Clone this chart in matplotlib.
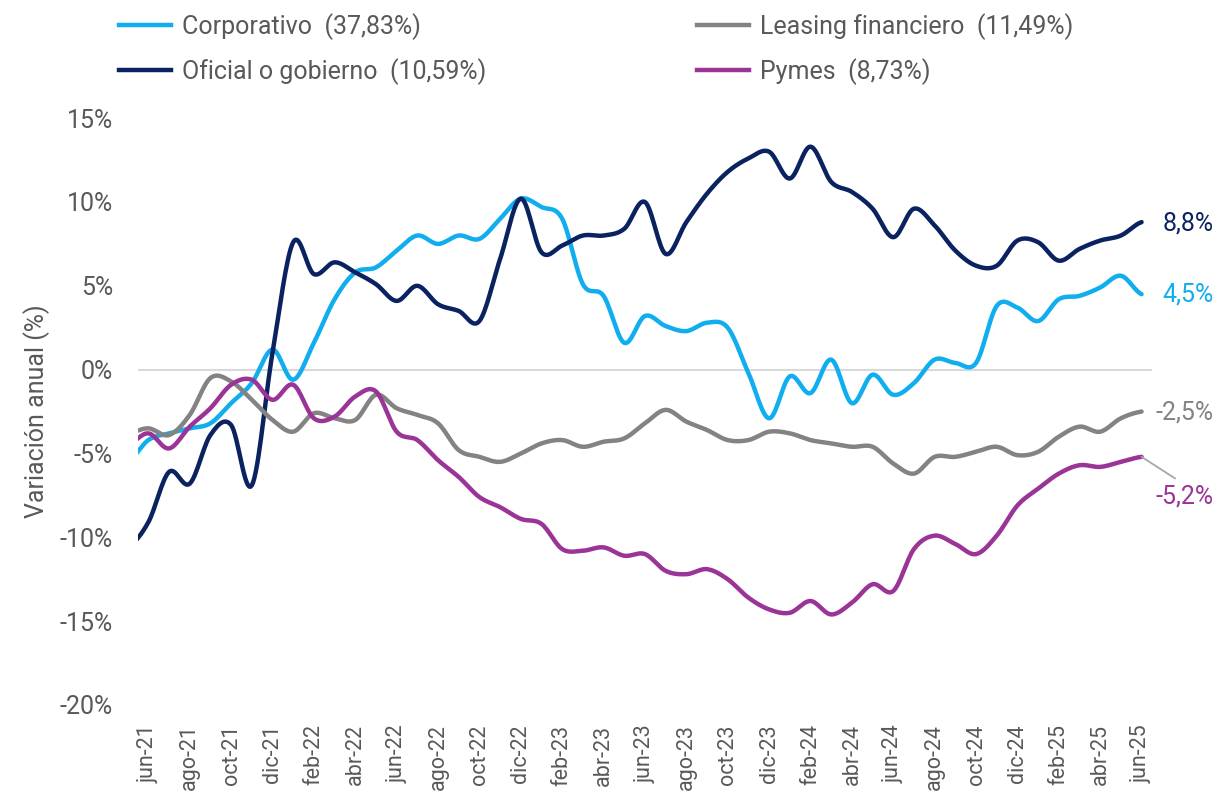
import matplotlib
matplotlib.use('Agg')
import matplotlib.pyplot as plt
from matplotlib.lines import Line2D
import numpy as np

plt.rcParams['font.family'] = ['Roboto', 'DejaVu Sans']

# months, may-21 .. jun-25 (may-21 only enters from the left edge)
months = ['may-21',
          'jun-21', 'jul-21', 'ago-21', 'sep-21', 'oct-21', 'nov-21', 'dic-21',
          'ene-22', 'feb-22', 'mar-22', 'abr-22', 'may-22', 'jun-22', 'jul-22',
          'ago-22', 'sep-22', 'oct-22', 'nov-22', 'dic-22', 'ene-23', 'feb-23',
          'mar-23', 'abr-23', 'may-23', 'jun-23', 'jul-23', 'ago-23', 'sep-23',
          'oct-23', 'nov-23', 'dic-23', 'ene-24', 'feb-24', 'mar-24', 'abr-24',
          'may-24', 'jun-24', 'jul-24', 'ago-24', 'sep-24', 'oct-24', 'nov-24',
          'dic-24', 'ene-25', 'feb-25', 'mar-25', 'abr-25', 'may-25', 'jun-25']

corporativo = [-5.5,
               -4.2, -3.8, -3.5, -3.2, -2.0, -0.8, 1.2, -0.6, 1.6, 4.2, 5.8, 6.1,
               7.1, 8.0, 7.5, 8.0, 7.8, 9.0, 10.2, 9.7, 9.0, 5.1, 4.4, 1.6,
               3.2, 2.6, 2.3, 2.8, 2.5, -0.2, -2.9, -0.4, -1.4, 0.6, -2.0, -0.3,
               -1.5, -0.8, 0.6, 0.4, 0.4, 3.8, 3.7, 2.9, 4.2, 4.4, 4.9, 5.6, 4.5]

leasing = [-3.8,
           -3.5, -3.9, -2.7, -0.5, -0.7, -1.8, -3.0, -3.7, -2.6, -2.9, -3.0, -1.5,
           -2.3, -2.7, -3.2, -4.8, -5.2, -5.5, -5.0, -4.4, -4.2, -4.6, -4.3, -4.1,
           -3.2, -2.4, -3.1, -3.6, -4.2, -4.2, -3.7, -3.8, -4.2, -4.4, -4.6, -4.6,
           -5.6, -6.2, -5.2, -5.2, -4.9, -4.6, -5.1, -4.9, -4.0, -3.4, -3.7, -2.9, -2.5]

oficial = [-10.6,
           -9.1, -6.1, -6.8, -3.9, -3.3, -6.9, 1.0, 7.6, 5.7, 6.4, 5.8, 5.1,
           4.1, 5.0, 3.9, 3.5, 2.9, 6.6, 10.2, 7.0, 7.4, 8.0, 8.0, 8.4,
           10.0, 6.9, 8.8, 10.5, 11.8, 12.6, 13.0, 11.4, 13.3, 11.2, 10.6, 9.6,
           7.9, 9.6, 8.6, 7.1, 6.2, 6.2, 7.7, 7.6, 6.5, 7.2, 7.7, 8.0, 8.8]

pymes = [-4.5,
         -3.8, -4.7, -3.4, -2.3, -0.9, -0.6, -1.8, -0.9, -2.9, -2.8, -1.6, -1.3,
         -3.7, -4.2, -5.4, -6.4, -7.6, -8.2, -8.9, -9.2, -10.7, -10.8, -10.6, -11.1,
         -11.0, -12.0, -12.2, -11.9, -12.5, -13.6, -14.3, -14.5, -13.8, -14.6, -13.9, -12.8,
         -13.2, -10.7, -9.9, -10.4, -11.0, -9.9, -8.1, -7.1, -6.2, -5.7, -5.8, -5.5, -5.2]

series_names = ['Corporativo  (37,83%)', 'Oficial o gobierno  (10,59%)',
                'Leasing financiero  (11,49%)', 'Pymes  (8,73%)']
end_labels = ['4,5%', '8,8%', '-2,5%', '-5,2%']

C_CORP = '#10AEEE'
C_OFI = '#0B2260'
C_LEAS = '#838383'
C_PYM = '#9B3497'
C_TEXT = '#595959'


def smooth(x, y, n=16):
    # catmull-rom style curve, like the "smoothed line" option in office charts
    x = np.asarray(x, float)
    y = np.asarray(y, float)
    xs, ys = [], []
    for i in range(len(x) - 1):
        p0 = y[i - 1] if i > 0 else y[i]
        p3 = y[i + 2] if i + 2 < len(y) else y[i + 1]
        p1, p2 = y[i], y[i + 1]
        t = np.linspace(0, 1, n, endpoint=False)
        yy = 0.5 * ((2 * p1) + (-p0 + p2) * t + (2 * p0 - 5 * p1 + 4 * p2 - p3) * t ** 2
                    + (-p0 + 3 * p1 - 3 * p2 + p3) * t ** 3)
        xs.append(x[i] + t * (x[i + 1] - x[i]))
        ys.append(yy)
    xs.append([x[-1]])
    ys.append([y[-1]])
    return np.concatenate(xs), np.concatenate(ys)


fig = plt.figure(figsize=(12.32, 7.93), dpi=100)
ax = fig.add_axes([0.112, 0.111, 0.823, 0.740])

x = np.arange(len(months)) - 1  # jun-21 at 0

ax.axhline(0, color='#D9D9D9', lw=1.5, zorder=1)

order = [(corporativo, C_CORP), (oficial, C_OFI), (leasing, C_LEAS), (pymes, C_PYM)]
for vals, col in order:
    sx, sy = smooth(x, vals)
    ax.plot(sx, sy, color=col, lw=3.2, solid_capstyle='round', zorder=3)

ax.set_xlim(-0.5, 48.5)
ax.set_ylim(-20, 15)
ax.set_yticks(np.arange(-20, 16, 5))
ax.set_yticklabels([f'{v}%' for v in range(-20, 16, 5)], fontsize=18, color=C_TEXT)
ax.set_xticks(x[1::2])
ax.set_xticklabels(months[1::2], rotation=90, fontsize=15.5, color=C_TEXT)
ax.tick_params(axis='both', length=0)
ax.tick_params(axis='y', pad=18)
ax.tick_params(axis='x', pad=14)
for s in ax.spines.values():
    s.set_visible(False)
ax.set_ylabel('Variación anual (%)', fontsize=18, color=C_TEXT)
ax.yaxis.set_label_coords(-0.087, 0.5)

# end-of-line value labels
ax.text(49.0, oficial[-1] - 0.1, end_labels[1], color=C_OFI, fontsize=18, va='center', ha='left')
ax.text(49.0, corporativo[-1], end_labels[0], color=C_CORP, fontsize=18, va='center', ha='left')
ax.text(48.65, leasing[-1] - 0.05, end_labels[2], color=C_LEAS, fontsize=18, va='center', ha='left')
ax.annotate(end_labels[3], xy=(48, pymes[-1]), xytext=(48.65, pymes[-1] - 2.35),
            color=C_PYM, fontsize=18, va='center', ha='left', annotation_clip=False,
            arrowprops=dict(arrowstyle='-', color='#A6A6A6', lw=1.3,
                            shrinkA=4, shrinkB=0, relpos=(0.5, 1.0)))

handles = [Line2D([], [], color=c, lw=3.2) for _, c in order]
fig.legend(handles, series_names, loc='upper left', bbox_to_anchor=(0.078, 1.012),
           ncol=2, frameon=False, fontsize=18, handlelength=2.1, handletextpad=0.45,
           columnspacing=8.4, labelspacing=0.72, labelcolor=C_TEXT)

fig.savefig('out.png', dpi=100, facecolor='white')
